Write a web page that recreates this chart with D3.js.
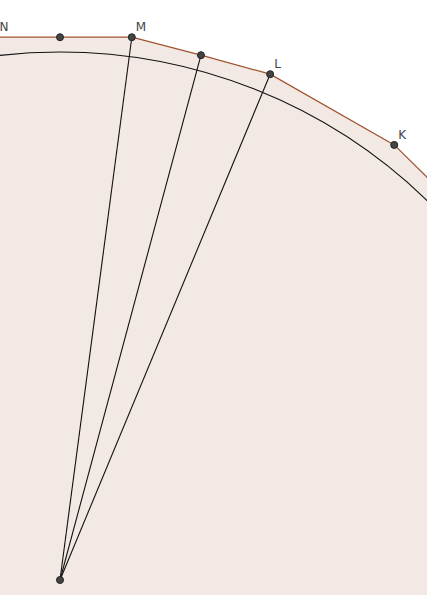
<!DOCTYPE html>
<html><head><meta charset="utf-8">
<script src="https://cdn.jsdelivr.net/npm/d3@7"></script>
<style>body{margin:0;background:#fff}svg{display:block}</style></head>
<body><script>
// geometry in units (circle radius = 1, centre O at origin)
const polygon = [[-0.4,1.028],[0,1.028],[0.136,1.028],[0.267,0.994],[0.398,0.958],[0.633,0.824],[0.80,0.66],[1.2,0.2],[1.2,-0.3],[-0.4,-0.3]];
const points = [{n:"N",x:-0.122,y:1.028,lab:true},{n:"",x:0,y:1.028},{n:"M",x:0.136,y:1.028,lab:true},{n:"",x:0.267,y:0.994},{n:"L",x:0.398,y:0.958,lab:true},{n:"K",x:0.633,y:0.824,lab:true}];
const rayIdx=[2,3,4];
const W=427,H=595;
const x=d3.scaleLinear().domain([0,1]).range([60,588]);
const y=d3.scaleLinear().domain([0,1]).range([580,52]);
const svg=d3.select("body").append("svg").attr("width",W).attr("height",H);
svg.append("path").attr("d",d3.line().x(d=>x(d[0])).y(d=>y(d[1]))(polygon)+"Z")
  .attr("fill","#f2e9e5").attr("stroke","#a0522d").attr("stroke-width",1.2);
svg.append("circle").attr("cx",x(0)).attr("cy",y(0)).attr("r",x(1)-x(0))
  .attr("fill","none").attr("stroke","#111").attr("stroke-width",1.1);
rayIdx.forEach(i=>svg.append("line").attr("x1",x(0)).attr("y1",y(0)).attr("x2",x(points[i].x)).attr("y2",y(points[i].y)).attr("stroke","#111").attr("stroke-width",1.1));
points.filter(p=>p.n!=="N").forEach(p=>svg.append("circle").attr("cx",x(p.x)).attr("cy",y(p.y)).attr("r",3.5).attr("fill","#444").attr("stroke","#222"));
svg.append("circle").attr("cx",x(0)).attr("cy",y(0)).attr("r",3.5).attr("fill","#444").attr("stroke","#222");
points.filter(p=>p.lab).forEach(p=>svg.append("text").attr("x",x(p.x)+4).attr("y",y(p.y)-6)
  .attr("font-family","DejaVu Sans, sans-serif").attr("font-size",12).attr("fill","#444").text(p.n));
</script></body></html>
